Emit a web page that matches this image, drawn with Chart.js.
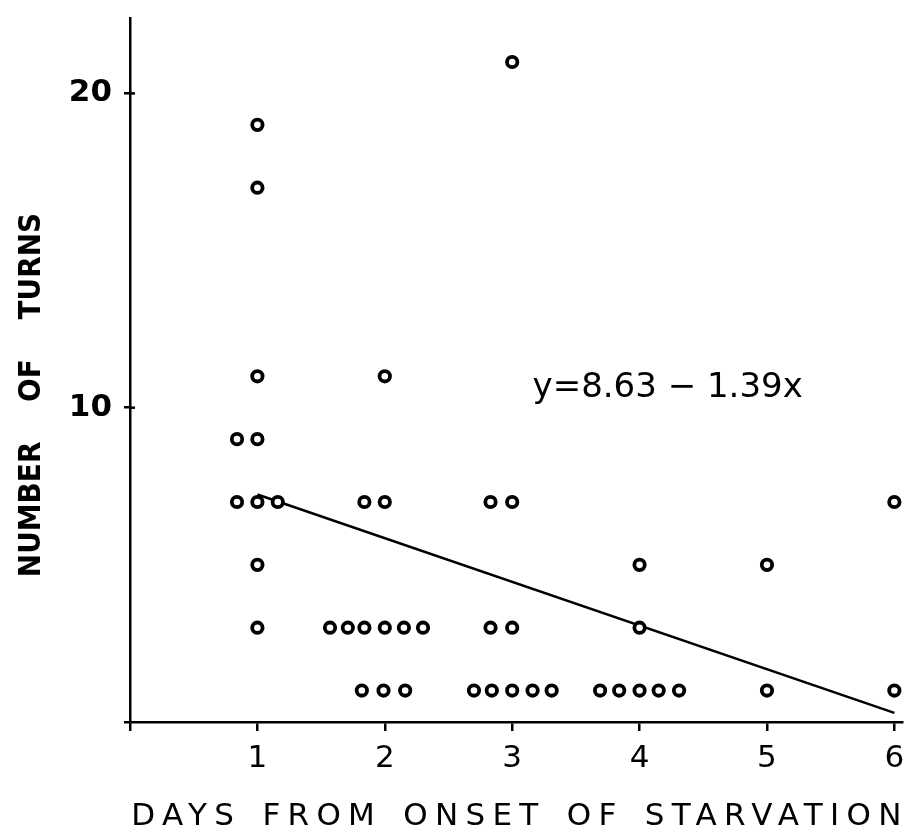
<!DOCTYPE html>
<html><head><meta charset="utf-8">
<script src="https://cdn.jsdelivr.net/npm/chart.js@4/dist/chart.umd.min.js"></script>
<style>html,body{margin:0;padding:0;background:#fff}#wrap{width:911px;height:831px;position:relative}</style>
</head><body><div id="wrap"><canvas id="c"></canvas></div>
<script>
// ---- data ----
const daysX = [1.00,1.00,1.00,0.84,1.00,0.84,1.00,1.16,1.00,1.00,
  2.00,1.84,2.00,1.57,1.71,1.84,2.00,2.15,2.30,1.82,1.99,2.16,
  3.00,2.83,3.00,2.83,3.00,2.70,2.84,3.00,3.16,3.31,
  4.00,4.00,3.69,3.84,4.00,4.15,4.31,
  5.00,5.00,
  6.00,6.00];
const turnsY = [19,17,11,9,9,7,7,7,5,3,
  11,7,7,3,3,3,3,3,3,1,1,1,
  21,7,7,3,3,1,1,1,1,1,
  5,3,1,1,1,1,1,
  5,1,
  7,1];
const fitX = [1, 6];
const fitY = [7.24, 0.29];
const xTickValues = [0,1,2,3,4,5,6];
const yTickValues = [0,10,20];
const xTitle = 'DAYS FROM ONSET OF STARVATION';
const yTitle = 'NUMBER OF TURNS';
const equation = 'y=8.63 − 1.39x';
const eqAnchor = [3.16, 10.33];

const FONT = '"DejaVu Sans", "Liberation Sans", sans-serif';

const textPlugin = {
  id: 'texts',
  afterDraw(chart) {
    const ctx = chart.ctx;
    const xs = chart.scales.x, ys = chart.scales.y;
    ctx.save();
    ctx.fillStyle = '#000';
    // inner halves of y ticks (crossing marks)
    ctx.strokeStyle = '#000'; ctx.lineWidth = 2.5;
    yTickValues.filter(v => v > 0).forEach(v => {
      const py = ys.getPixelForValue(v);
      ctx.beginPath(); ctx.moveTo(xs.left, py); ctx.lineTo(xs.left + 5, py); ctx.stroke();
    });
    // x title
    ctx.font = 'normal 31px ' + FONT;
    ctx.letterSpacing = '7.3px';
    ctx.wordSpacing = '4px';
    ctx.textAlign = 'center';
    ctx.textBaseline = 'alphabetic';
    ctx.fillText(xTitle, (chart.chartArea.left + chart.chartArea.right) / 2 + 4, 825);
    // y title
    ctx.save();
    ctx.translate(40, 395);
    ctx.rotate(-Math.PI / 2);
    ctx.font = 'bold 31px "DejaVu Sans Condensed", ' + FONT;
    ctx.letterSpacing = '0px';
    ctx.wordSpacing = '30px';
    ctx.textAlign = 'center';
    ctx.fillText(yTitle, 0, 0);
    ctx.restore();
    // equation
    ctx.font = 'normal 34px ' + FONT;
    ctx.letterSpacing = '0px';
    ctx.wordSpacing = '0px';
    ctx.textAlign = 'left';
    ctx.fillText(equation, xs.getPixelForValue(eqAnchor[0]), ys.getPixelForValue(eqAnchor[1]));
    ctx.restore();
  }
};

new Chart(document.getElementById('c'), {
  type: 'scatter',
  data: {
    datasets: [
      {
        label: 'Turns',
        data: daysX.map((x, i) => ({x, y: turnsY[i]})),
        pointStyle: 'circle',
        pointRadius: 5.2,
        pointBorderWidth: 3.8,
        pointBackgroundColor: '#fff',
        pointBorderColor: '#000',
        showLine: false,
        order: 1
      },
      {
        label: 'Fit',
        data: fitX.map((x, i) => ({x, y: fitY[i]})),
        showLine: true,
        borderColor: '#000',
        borderWidth: 2.5,
        pointRadius: 0,
        fill: false,
        order: 2
      }
    ]
  },
  options: {
    responsive: true,
    maintainAspectRatio: false,
    animation: false,
    layout: { padding: { top: 18, right: 4, left: 0, bottom: 0 } },
    plugins: { legend: { display: false }, tooltip: { enabled: false } },
    scales: {
      x: {
        type: 'linear', min: 0, max: 6.06,
        afterFit(s) { s.height = 109; s.paddingLeft = 0; s.paddingRight = 0; },
        afterBuildTicks(s) { s.ticks = xTickValues.map(v => ({value: v})); },
        border: { display: true, color: '#000', width: 2.5 },
        grid: { drawOnChartArea: false, drawTicks: true, tickLength: 9, color: '#000', lineWidth: 2.5 },
        ticks: {
          color: '#000', padding: 9, maxRotation: 0, autoSkip: false,
          font: { family: FONT, size: 31, weight: 'normal' },
          callback: v => v === 0 ? '' : String(v)
        }
      },
      y: {
        type: 'linear', min: 0, max: 22.4,
        afterFit(s) { s.width = 130; s.paddingTop = 0; s.paddingBottom = 0; },
        afterBuildTicks(s) { s.ticks = yTickValues.map(v => ({value: v})); },
        border: { display: true, color: '#000', width: 2.5 },
        grid: { drawOnChartArea: false, drawTicks: true, tickLength: 6, color: '#000', lineWidth: 2.5 },
        ticks: {
          color: '#000', padding: 12, autoSkip: false,
          font: { family: FONT, size: 31, weight: 'bold' },
          callback: v => v === 0 ? '' : String(v)
        }
      }
    }
  },
  plugins: [textPlugin]
});
</script>
</body></html>
